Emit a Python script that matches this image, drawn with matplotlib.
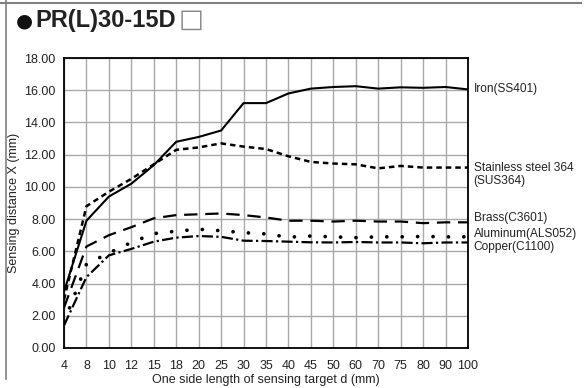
import numpy as np
import matplotlib.pyplot as plt
from matplotlib.lines import Line2D

plt.rcParams['font.family'] = ['Liberation Sans', 'DejaVu Sans']

# target side length d (mm) - plotted as equally spaced categories
sizes = ['4', '8', '10', '12', '15', '18', '20', '25', '30', '35',
         '40', '45', '50', '60', '70', '75', '80', '90', '100']

iron = [3.5, 7.9, 9.4, 10.2, 11.35, 12.8, 13.1, 13.5, 15.2, 15.2,
        15.8, 16.1, 16.2, 16.25, 16.1, 16.18, 16.15, 16.2, 16.05]
stainless = [3.0, 8.8, 9.7, 10.5, 11.4, 12.3, 12.45, 12.7, 12.5, 12.35,
             11.9, 11.55, 11.45, 11.4, 11.15, 11.3, 11.2, 11.2, 11.2]
brass = [2.5, 6.3, 7.0, 7.5, 8.05, 8.25, 8.3, 8.35, 8.25, 8.1,
         7.9, 7.9, 7.85, 7.9, 7.85, 7.85, 7.75, 7.8, 7.8]
aluminum = [1.6, 5.2, 5.9, 6.55, 7.1, 7.25, 7.37, 7.28, 7.16, 7.08,
            6.88, 6.95, 6.9, 6.85, 6.9, 6.9, 6.92, 6.9, 6.9]
copper = [1.4, 4.4, 5.75, 6.15, 6.6, 6.85, 6.95, 6.9, 6.66, 6.64,
          6.6, 6.56, 6.55, 6.58, 6.55, 6.55, 6.5, 6.55, 6.55]

labels = ['Iron(SS401)', 'Stainless steel 364\n(SUS364)', 'Brass(C3601)',
          'Aluminum(ALS052)', 'Copper(C1100)']
label_y = [16.05, 10.75, 8.05, 7.05, 6.3]

fig = plt.figure(figsize=(5.85, 3.88), dpi=100)
ax = fig.add_axes([0.1094, 0.1031, 0.6906, 0.7474])

xpos = np.arange(len(sizes))
k = 'black'
ax.plot(xpos, iron, c=k, lw=1.5, ls='-')
ax.plot(xpos, stainless, c=k, lw=1.8, ls=(0, (2.2, 1.6)))
ax.plot(xpos, brass, c=k, lw=1.6, ls=(0, (6, 3.5)))
ax.plot(xpos, aluminum, c=k, lw=2.7, ls=(0, (0.01, 4.1)),
        dash_capstyle='round', solid_capstyle='round')
ax.plot(xpos, copper, c=k, lw=1.6, ls=(0, (5, 1.5, 1, 1.5)))

ax.set_xlim(0, len(sizes) - 1)
ax.set_ylim(0, 18)
ax.set_xticks(xpos)
ax.set_xticklabels(sizes)
ax.set_yticks(np.arange(0, 18.1, 2))
ax.set_yticklabels(['%.2f' % v for v in np.arange(0, 18.1, 2)])
ax.tick_params(length=0, labelsize=9, colors='#222222')
ax.tick_params(axis='y', pad=6)
ax.tick_params(axis='x', pad=9)
ax.grid(True, color='#a9a9a9', lw=1.0)
ax.set_axisbelow(True)
for s in ax.spines.values():
    s.set_color('black')
    s.set_linewidth(1.3)

ax.set_ylabel('Sensing distance X (mm)', fontsize=9, color='#222222', labelpad=3)
ax.set_xlabel('One side length of sensing target d (mm)', fontsize=9,
              color='#222222', labelpad=1)

for lab, yv in zip(labels, label_y):
    ax.text(18.25, yv, lab, fontsize=8.6, va='center', ha='left',
            color='#222222', clip_on=False, linespacing=1.1)

# title and frame
fig.text(0.027, 0.946, '\u25cf', fontsize=14, va='center', ha='left',
         family=['DejaVu Sans'], color='#111111')
fig.text(0.06, 0.946, 'PR(L)30-15D', fontsize=17, fontweight='bold',
         va='center', ha='left', color='#222222')
fig.text(0.305, 0.948, '\u25a1', fontsize=19, va='center', ha='left',
         family=['DejaVu Sans'], color='#888888')

fig.add_artist(Line2D([0, 0.994], [0.992, 0.992], color='#808080', lw=1.5,
                      transform=fig.transFigure))
fig.add_artist(Line2D([0.011, 0.011], [0.023, 1.0], color='#808080', lw=1.2,
                      transform=fig.transFigure))

plt.savefig('out.png', dpi=100)
